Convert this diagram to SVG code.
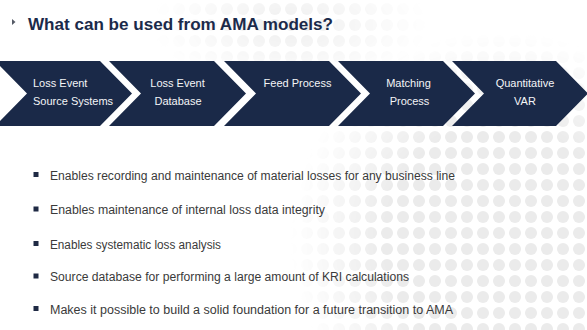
<svg xmlns="http://www.w3.org/2000/svg" width="587" height="330" viewBox="0 0 587 330">
  <style>
    .chev { fill: #1a2948; }
    .ct { font-family: "Liberation Sans", Arial, sans-serif; font-size: 11px; fill: #f4f5f7; }
    .ctc { text-anchor: middle; }
    .title { font-family: "Liberation Sans", Arial, sans-serif; font-size: 17px; font-weight: bold; fill: #1b2a4a; }
    .bt { font-family: "Liberation Sans", Arial, sans-serif; font-size: 12px; fill: #3a3a3a; }
    .sq { fill: #1f2a44; }
  </style>
  <defs>
    <pattern id="dots" patternUnits="userSpaceOnUse" x="-5" y="1" width="16" height="16">
      <circle cx="8" cy="8" r="6" fill="#ebebeb"/>
    </pattern>
    <radialGradient id="gRight" gradientUnits="userSpaceOnUse" cx="500" cy="240" r="210">
      <stop offset="0" stop-color="#fff" stop-opacity="1"/>
      <stop offset="0.55" stop-color="#fff" stop-opacity="1"/>
      <stop offset="1" stop-color="#fff" stop-opacity="0"/>
    </radialGradient>
    <radialGradient id="gTop" gradientUnits="userSpaceOnUse" cx="290" cy="25" r="140" gradientTransform="translate(290 25) scale(1 0.45) translate(-290 -25)">
      <stop offset="0" stop-color="#fff" stop-opacity="0.8"/>
      <stop offset="1" stop-color="#fff" stop-opacity="0"/>
    </radialGradient>
    <mask id="mRight"><rect width="587" height="330" fill="url(#gRight)"/></mask>
    <mask id="mTop"><rect width="587" height="330" fill="url(#gTop)"/></mask>
  </defs>

  <rect width="587" height="330" fill="#ffffff"/>
  <g id="background-dots">
    <rect width="587" height="330" fill="url(#dots)" mask="url(#mRight)"/>
    <rect width="587" height="70" fill="url(#dots)" mask="url(#mTop)"/>
  </g>

  <g id="title">
    <polygon points="12,19 15.5,22 12,25" fill="#555a66"/>
    <text class="title" x="28" y="29.5" textLength="305" lengthAdjust="spacingAndGlyphs">What can be used from AMA models?</text>
  </g>

  <g id="connectors"></g>

  <g id="node-loss-event-source-systems">
    <polygon class="chev" points="-5,61 100,61 132,93.5 100,126 -5,126 27,93.5"/>
    <text class="ct" x="33" y="87">Loss Event</text>
    <text class="ct" x="33" y="104.5">Source Systems</text>
  </g>
  <g id="node-loss-event-database">
    <polygon class="chev" points="109,61 214,61 246,93.5 214,126 109,126 141,93.5"/>
    <text class="ct ctc" x="177.5" y="87">Loss Event</text>
    <text class="ct ctc" x="178" y="104.5">Database</text>
  </g>
  <g id="node-feed-process">
    <polygon class="chev" points="224,61 329,61 361,93.5 329,126 224,126 256,93.5"/>
    <text class="ct ctc" x="297.5" y="87">Feed Process</text>
  </g>
  <g id="node-matching-process">
    <polygon class="chev" points="338,61 443,61 475,93.5 443,126 338,126 370,93.5"/>
    <text class="ct ctc" x="408.5" y="87">Matching</text>
    <text class="ct ctc" x="409.5" y="104.5">Process</text>
  </g>
  <g id="node-quantitative-var">
    <polygon class="chev" points="452,61 556,61 588,93.5 556,126 452,126 484,93.5"/>
    <text class="ct ctc" x="525" y="87">Quantitative</text>
    <text class="ct ctc" x="525" y="104.5">VAR</text>
  </g>

  <g id="bullets">
    <rect class="sq" x="33.5" y="172" width="5" height="5"/>
    <text class="bt" x="50" y="179.5" textLength="405" lengthAdjust="spacingAndGlyphs">Enables recording and maintenance of material losses for any business line</text>
    <rect class="sq" x="33.5" y="206.5" width="5" height="5"/>
    <text class="bt" x="50" y="214" textLength="275" lengthAdjust="spacingAndGlyphs">Enables maintenance of internal loss data integrity</text>
    <rect class="sq" x="33.5" y="241" width="5" height="5"/>
    <text class="bt" x="50" y="248.5" textLength="171" lengthAdjust="spacingAndGlyphs">Enables systematic loss analysis</text>
    <rect class="sq" x="33.5" y="273.5" width="5" height="5"/>
    <text class="bt" x="50" y="281" textLength="359" lengthAdjust="spacingAndGlyphs">Source database for performing a large amount of KRI calculations</text>
    <rect class="sq" x="33.5" y="306" width="5" height="5"/>
    <text class="bt" x="50" y="313.5" textLength="403" lengthAdjust="spacingAndGlyphs">Makes it possible to build a solid foundation for a future transition to AMA</text>
  </g>
</svg>
